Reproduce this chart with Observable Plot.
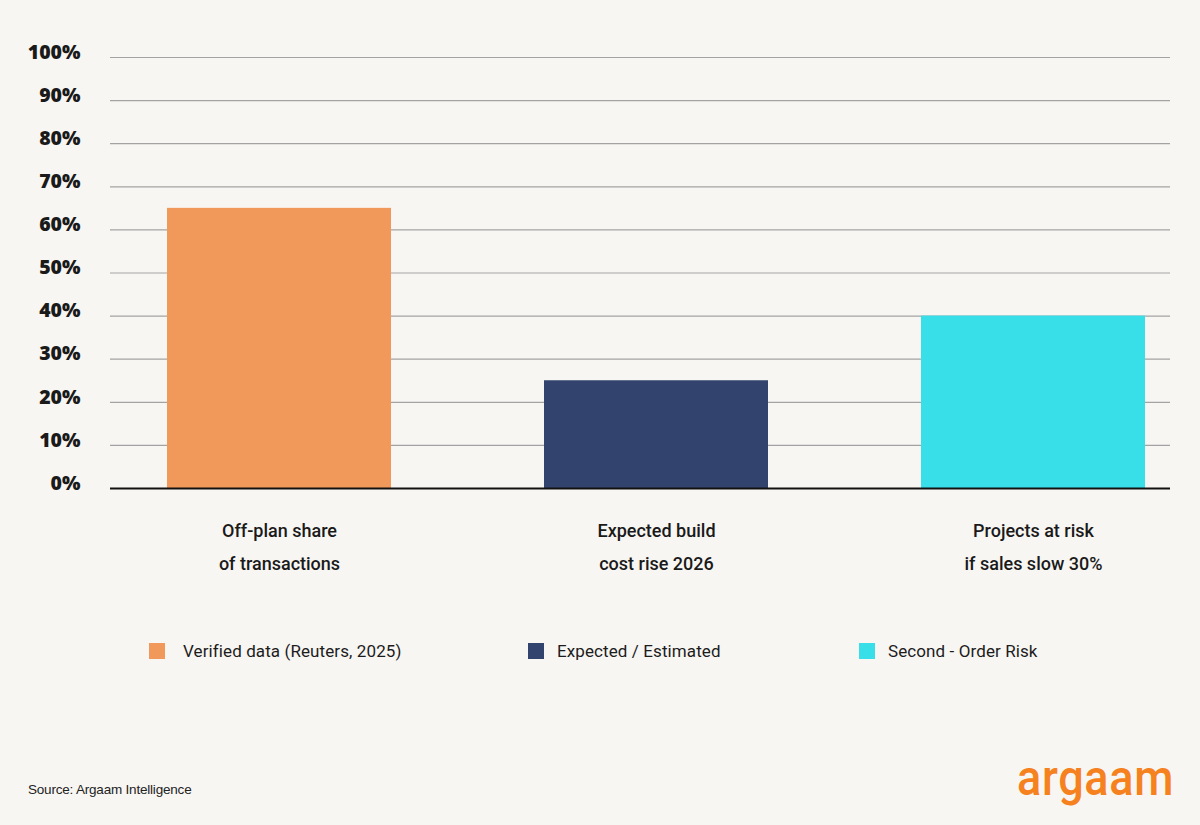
<!DOCTYPE html>
<html><head><meta charset="utf-8">
<script src="https://cdn.jsdelivr.net/npm/d3@7"></script>
<script src="https://cdn.jsdelivr.net/npm/@observablehq/plot@0.6"></script>
<style>
body{margin:0;background:#f8f6f3;}
#wrap{position:relative;width:1200px;height:825px;background:#f8f6f3;overflow:hidden;font-family:Roboto,"Noto Sans",sans-serif;}
#chart{position:absolute;left:0;top:0;}
#legend{position:absolute;left:0;top:641px;width:1200px;height:22px;}
.li{position:absolute;top:0;display:flex;align-items:center;height:20px;font-size:17px;color:#1c1c1c;letter-spacing:0.1px;}
.li:nth-child(1){left:149px;}
.li:nth-child(2){left:528px;}
.li:nth-child(3){left:859px;}
.sw{width:16px;height:16px;margin-right:18px;}
.li:nth-child(2) .sw{margin-right:13px;}
.li:nth-child(3) .sw{margin-right:13px;}
#source{position:absolute;left:28px;top:782px;font-family:"Liberation Sans",Arial,sans-serif;font-size:13.5px;color:#222;letter-spacing:-0.2px;}
#logo{position:absolute;left:1017px;top:752px;font-family:Roboto,sans-serif;font-weight:500;font-size:45px;color:#f5821f;letter-spacing:0.7px;transform:scaleY(1.12);transform-origin:top left;line-height:1;}
</style></head><body>
<div id="wrap">
<div id="chart"></div>
<div id="legend"></div>
<div id="source">Source: Argaam Intelligence</div>
<div id="logo">argaam</div>
</div>
<script>
const categories = ["Off-plan share\nof transactions", "Expected build\ncost rise 2026", "Projects at risk\nif sales slow 30%"];
const values = [65, 25, 40];
const seriesLabels = ["Verified data (Reuters, 2025)", "Expected / Estimated", "Second - Order Risk"];
const colors = ["#f0995a", "#32446e", "#38dfe9"];
const yTicks = [0, 10, 20, 30, 40, 50, 60, 70, 80, 90, 100];

const data = categories.map((c, i) => ({category: c, value: values[i], series: seriesLabels[i]}));

const chart = Plot.plot({
  width: 1200,
  height: 590,
  marginTop: 57,
  marginBottom: 102,
  marginLeft: 110,
  marginRight: 30,
  style: {background: "transparent", fontFamily: "Roboto, sans-serif", overflow: "visible"},
  x: {domain: categories, range: [167, 1145], paddingInner: 0.406, paddingOuter: 0, axis: null},
  y: {domain: [0, 100], axis: null},
  color: {domain: seriesLabels, range: colors},
  marks: [
    Plot.ruleY(yTicks.filter(d => d > 0), {stroke: "#a3a3a3", strokeWidth: 1.2}),
    Plot.barY(data, {x: "category", y: "value", fill: "series"}),
    Plot.ruleY([0], {stroke: "#111", strokeWidth: 2}),
    Plot.axisY({ticks: yTicks, label: null, tickSize: 0, tickPadding: 30, tickFormat: d => d + "%", fontSize: 19.5, fontWeight: 800, fontFamily: "'Open Sans', sans-serif", fill: "#1a1a1a", dy: -5}),
    Plot.axisX({label: null, tickSize: 0, tickPadding: 25, lineHeight: 1.85, fontSize: 18, fontWeight: 500, fill: "#1a1a1a"})
  ]
});
document.getElementById("chart").appendChild(chart);

const legend = document.getElementById("legend");
seriesLabels.forEach((s, i) => {
  const item = document.createElement("div");
  item.className = "li";
  const sw = document.createElement("div");
  sw.className = "sw";
  sw.style.background = colors[i];
  const t = document.createElement("span");
  t.textContent = s;
  item.appendChild(sw);
  item.appendChild(t);
  legend.appendChild(item);
});
</script>
</body></html>
